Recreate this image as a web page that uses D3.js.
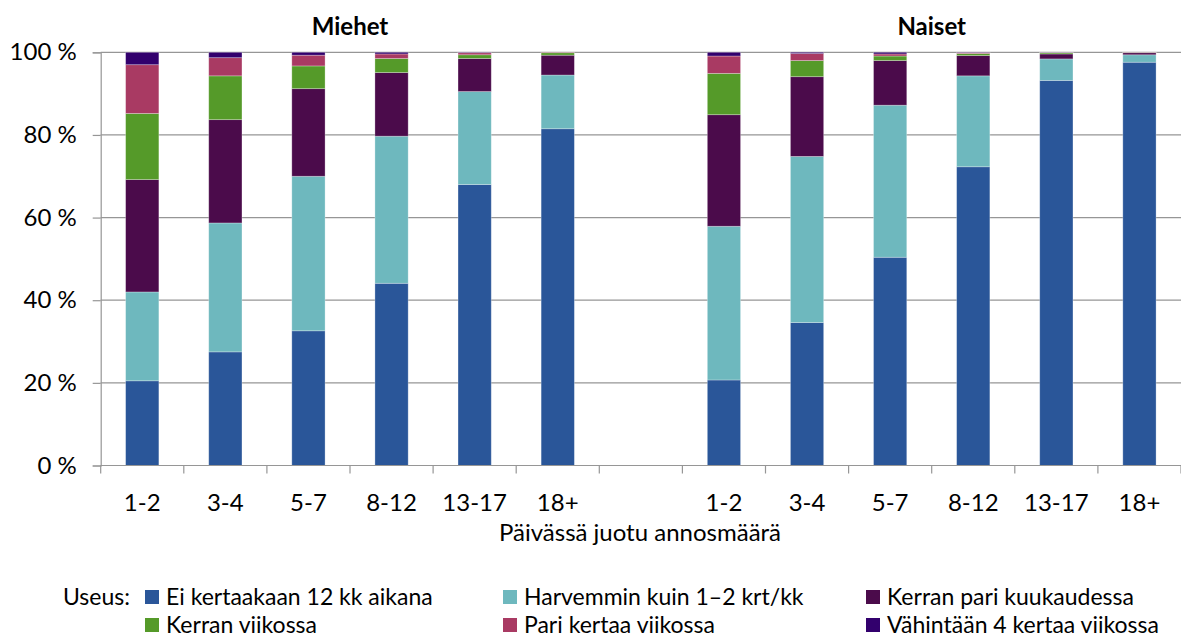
<!DOCTYPE html>
<html>
<head>
<meta charset="utf-8">
<script src="https://cdn.jsdelivr.net/npm/d3@7/dist/d3.min.js"></script>
<style>
  html, body { margin: 0; padding: 0; background: #fff; }
  svg { display: block; }
  text { font-family: Lato, "Open Sans", sans-serif; fill: #000; }
</style>
</head>
<body>
<svg id="chart" width="1181" height="637"></svg>
<script>
// ---- Data ----
const categories = ["1-2", "3-4", "5-7", "8-12", "13-17", "18+"];
const groups = ["Miehet", "Naiset"];
const yTicks = [0, 20, 40, 60, 80, 100];
const xTitle = "Päivässä juotu annosmäärä";
const legendTitle = "Useus:";
const seriesNames = [
  "Ei kertaakaan 12 kk aikana",
  "Harvemmin kuin 1–2 krt/kk",
  "Kerran pari kuukaudessa",
  "Kerran viikossa",
  "Pari kertaa viikossa",
  "Vähintään 4 kertaa viikossa"
];
const seriesColors = ["#2a5699", "#6eb8be", "#4b0b4b", "#559a29", "#a93a63", "#32006d"];

// values per series, in category order (Miehet)
const menNever    = [20.5, 27.5, 32.6, 44.1, 68.0, 81.5];
const menRarely   = [21.5, 31.2, 37.4, 35.6, 22.5, 13.0];
const menMonthly  = [27.2, 25.0, 21.2, 15.4,  8.0,  4.8];
const menWeekly   = [16.0, 10.6,  5.5,  3.4,  0.9,  0.6];
const menTwice    = [11.8,  4.4,  2.6,  1.1,  0.5,  0.1];
const menFour     = [ 3.0,  1.3,  0.7,  0.4,  0.1,  0.0];
// (Naiset)
const womenNever   = [20.7, 34.6, 50.4, 72.3, 93.2, 97.6];
const womenRarely  = [37.2, 40.2, 36.8, 22.0,  5.2,  1.8];
const womenMonthly = [27.0, 19.3, 10.8,  4.9,  1.2,  0.5];
const womenWeekly  = [10.0,  3.9,  1.1,  0.5,  0.3,  0.05];
const womenTwice   = [ 4.2,  1.7,  0.5,  0.2,  0.05, 0.05];
const womenFour    = [ 0.9,  0.3,  0.4,  0.1,  0.05, 0.0];

const menSeries = [menNever, menRarely, menMonthly, menWeekly, menTwice, menFour];
const womenSeries = [womenNever, womenRarely, womenMonthly, womenWeekly, womenTwice, womenFour];

(function () {
// ---- Build table ----
const keys = seriesNames;
const rows = [];
categories.forEach((c, i) => {
  const r = { id: "M|" + c, label: c };
  keys.forEach((k, s) => r[k] = menSeries[s][i]);
  rows.push(r);
});
rows.push({ id: "gap", label: "" , ...Object.fromEntries(keys.map(k => [k, 0])) });
categories.forEach((c, i) => {
  const r = { id: "N|" + c, label: c };
  keys.forEach((k, s) => r[k] = womenSeries[s][i]);
  rows.push(r);
});

// ---- Layout ----
const svg = d3.select("#chart");
const plotLeft = 100.7, plotRight = 1181, plotTop = 52.3, plotBottom = 465.5;
const fs = "24px";
const legendFs = "23px";

const x = d3.scaleBand()
  .domain(rows.map(d => d.id))
  .range([plotLeft, plotRight])
  .paddingInner(0.6)
  .paddingOuter(0.3);

const y = d3.scaleLinear().domain([0, 100]).range([plotBottom, plotTop]);

const gridColor = "#969696";

// gridlines
svg.append("g").selectAll("line")
  .data(yTicks)
  .join("line")
  .attr("x1", plotLeft).attr("x2", plotRight)
  .attr("y1", d => y(d)).attr("y2", d => y(d))
  .attr("stroke", gridColor).attr("stroke-width", 1.2);

// y axis
const yAxis = d3.axisLeft(y).tickValues(yTicks).tickSize(8).tickPadding(16)
  .tickFormat(d => d + " %");
const gy = svg.append("g").attr("transform", `translate(${plotLeft},0)`).call(yAxis);
gy.select(".domain").attr("stroke", gridColor).attr("stroke-width", 1.2);
gy.selectAll(".tick line").attr("stroke", gridColor).attr("stroke-width", 1.2);
gy.selectAll(".tick text").style("font-size", fs).style("font-family", "Lato").attr("fill", "#000");

// stacked bars
const stack = d3.stack().keys(keys);
const stacked = stack(rows);
svg.append("g").selectAll("g")
  .data(stacked)
  .join("g")
  .attr("fill", (d, i) => seriesColors[i])
  .selectAll("rect")
  .data(d => d.filter(p => p.data.id !== "gap"))
  .join("rect")
  .attr("x", d => x(d.data.id))
  .attr("width", x.bandwidth())
  .attr("y", d => y(d[1]))
  .attr("height", d => Math.max(0, y(d[0]) - y(d[1])))
  .attr("stroke", "rgba(255,255,255,0.35)")
  .attr("stroke-width", 0.8);

// x axis line and ticks at band boundaries
svg.append("line")
  .attr("x1", plotLeft).attr("x2", plotRight)
  .attr("y1", plotBottom).attr("y2", plotBottom)
  .attr("stroke", gridColor).attr("stroke-width", 1.2);
const step = x.step();
const boundaries = d3.range(rows.length + 1).map(i => plotLeft + i * step);
svg.append("g").selectAll("line")
  .data(boundaries)
  .join("line")
  .attr("x1", d => d).attr("x2", d => d)
  .attr("y1", plotBottom).attr("y2", plotBottom + 8)
  .attr("stroke", gridColor).attr("stroke-width", 1.2);

// category labels
svg.append("g").selectAll("text")
  .data(rows.filter(d => d.id !== "gap"))
  .join("text")
  .attr("x", d => x(d.id) + x.bandwidth() / 2)
  .attr("y", 511)
  .attr("text-anchor", "middle")
  .style("font-size", fs)
  .text(d => d.label);

// x title
svg.append("text")
  .attr("x", 640).attr("y", 541)
  .attr("text-anchor", "middle")
  .style("font-size", fs)
  .text(xTitle);

// group titles
const groupCenters = [
  (x("M|1-2") + x("M|18+") + x.bandwidth()) / 2,
  (x("N|1-2") + x("N|18+") + x.bandwidth()) / 2
];
svg.append("g").selectAll("text")
  .data(groups)
  .join("text")
  .attr("x", (d, i) => groupCenters[i])
  .attr("y", 35)
  .attr("text-anchor", "middle")
  .style("font-size", fs)
  .style("font-weight", "bold")
  .text(d => d);

// legend
svg.append("text")
  .attr("x", 63).attr("y", 605)
  .style("font-size", legendFs)
  .text(legendTitle);
const legendCols = [145, 503, 866];
const legendRows = [597, 625];
const lg = svg.append("g").selectAll("g")
  .data(seriesNames)
  .join("g")
  .attr("transform", (d, i) => `translate(${legendCols[i % 3]},${legendRows[Math.floor(i / 3)]})`);
lg.append("rect")
  .attr("x", 0).attr("y", -7).attr("width", 14).attr("height", 14)
  .attr("fill", (d, i) => seriesColors[i]);
lg.append("text")
  .attr("x", 21).attr("y", 8)
  .style("font-size", legendFs)
  .text(d => d);
})();
</script>
</body>
</html>
